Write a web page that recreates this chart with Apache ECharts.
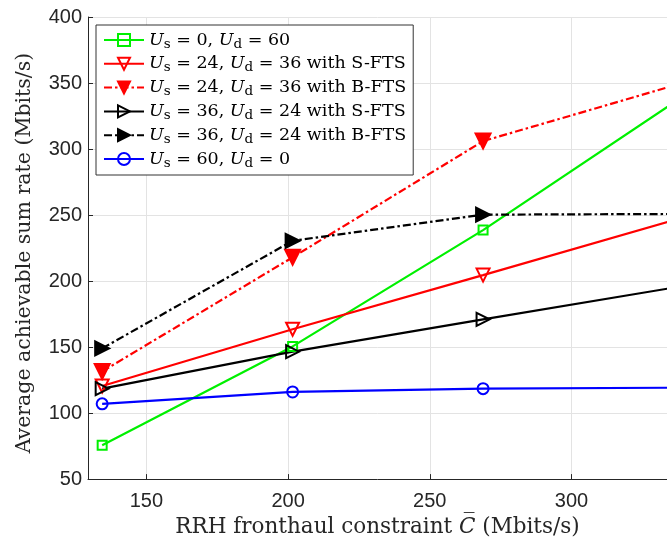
<!DOCTYPE html>
<html><head><meta charset="utf-8">
<script src="https://cdn.jsdelivr.net/npm/echarts@6/dist/echarts.min.js"></script>
<style>html,body{margin:0;padding:0;background:#fff}#c{width:667px;height:543px}</style>
</head><body><div id="c"></div>
<script>
const xValues = [134.4, 201.6, 268.8, 336];
const xTicks = [150, 200, 250, 300];
const greenUs0 = [75.6, 150.5, 238.6, 335];
const redSFTS = [120.5, 163.5, 204.5, 246];
const redBFTS = [131.5, 218, 306, 348];
const blackSFTS = [118.5, 146.5, 171, 195];
const blackBFTS = [149, 230.5, 250.3, 250.8];
const blueUs60 = [107, 116, 118.5, 119.2];
const names = [
  '{i|U}{s|s} = 0, {i|U}{s|d} = 60',
  '{i|U}{s|s} = 24, {i|U}{s|d} = 36 with S-FTS',
  '{i|U}{s|s} = 24, {i|U}{s|d} = 36 with B-FTS',
  '{i|U}{s|s} = 36, {i|U}{s|d} = 24 with S-FTS',
  '{i|U}{s|s} = 36, {i|U}{s|d} = 24 with B-FTS',
  '{i|U}{s|s} = 60, {i|U}{s|d} = 0'
];
const pair = ys => xValues.map((x, i) => [x, ys[i]]);
const serif = 'DejaVu Serif';
const dashDot = [8, 3, 2.5, 3];
function mk(name, ys, color, symbol, rot, filled, dashed, size) {
  return {
    name, type: 'line', data: pair(ys), symbol, symbolRotate: rot, symbolSize: size,
    clip: true,
    lineStyle: { color, width: 2.2, type: dashed ? dashDot : 'solid' },
    itemStyle: { color: filled ? color : 'rgba(255,255,255,0)', borderColor: color, borderWidth: 2 },
    emphasis: { disabled: true }, animation: false
  };
}
const chart = echarts.init(document.getElementById('c'));
chart.setOption({
  animation: false,
  grid: { left: 88, right: 0, top: 17, bottom: 61 },
  xAxis: {
    type: 'value', min: 129.4, max: 333.7,
    name: 'RRH fronthaul constraint {i|C\u0305} (Mbits/s)',
    nameLocation: 'middle', nameGap: 36,
    nameTextStyle: { fontFamily: serif, fontSize: 21.5, color: '#262626',
      rich: { i: { fontFamily: serif, fontStyle: 'italic', fontSize: 21.5, color: '#262626' } } },
    axisLine: { lineStyle: { color: '#262626' } },
    axisTick: { inside: true, length: 5, customValues: xTicks, lineStyle: { color: '#262626' } },
    axisLabel: { customValues: xTicks, fontFamily: 'Liberation Sans', fontSize: 20, color: '#262626', margin: 12 },
    splitLine: { show: true, lineStyle: { color: '#e3e3e3' } }
  },
  yAxis: {
    type: 'value', min: 50, max: 400, interval: 50,
    name: 'Average achievable sum rate (Mbits/s)',
    nameLocation: 'middle', nameGap: 53,
    nameTextStyle: { fontFamily: serif, fontSize: 20.5, color: '#262626', padding: [0, 10, 0, 0] },
    axisLine: { show: true, lineStyle: { color: '#262626' } },
    axisTick: { show: true, inside: true, length: 5, lineStyle: { color: '#262626' } },
    axisLabel: { fontFamily: 'Liberation Sans', fontSize: 20, color: '#262626', margin: 6 },
    splitLine: { show: true, lineStyle: { color: '#e3e3e3' } }
  },
  legend: {
    orient: 'vertical', left: 96, top: 25, itemWidth: 40, itemHeight: 15, itemGap: 1.8,
    padding: [4, 7, 5, 7], borderColor: '#333', borderWidth: 1, backgroundColor: '#fff',
    data: names,
    textStyle: { fontFamily: serif, fontSize: 17.5, color: '#000', lineHeight: 22,
      rich: {
        i: { fontFamily: serif, fontStyle: 'italic', fontSize: 17.5, lineHeight: 22, color: '#000' },
        s: { fontFamily: serif, fontSize: 13.5, lineHeight: 14, verticalAlign: 'bottom', color: '#000' }
      } }
  },
  series: [
    mk(names[0], greenUs0, '#00f000', 'rect', 0, false, false, 9),
    mk(names[1], redSFTS, '#ff0000', 'triangle', 180, false, false, 13),
    mk(names[2], redBFTS, '#ff0000', 'triangle', 180, true, true, 15),
    mk(names[3], blackSFTS, '#000000', 'triangle', -90, false, false, 13),
    mk(names[4], blackBFTS, '#000000', 'triangle', -90, true, true, 14),
    mk(names[5], blueUs60, '#0000ff', 'circle', 0, false, false, 11)
  ]
});
</script></body></html>
